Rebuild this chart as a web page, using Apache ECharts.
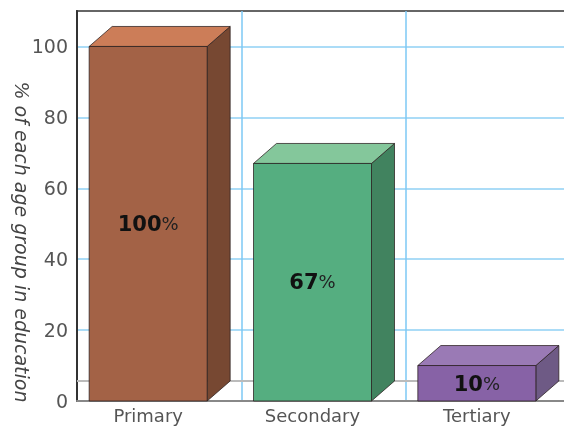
<!DOCTYPE html>
<html><head><meta charset="utf-8">
<style>html,body{margin:0;padding:0;background:#fff}#c{width:564px;height:427px}</style>
<script src="https://cdn.jsdelivr.net/npm/echarts@6/dist/echarts.min.js"></script>
</head><body><div id="c"></div>
<script>
const categories = ['Primary', 'Secondary', 'Tertiary'];
const values = [100, 67, 10];
const backFloor = 5.6;
const yTicks = [0, 20, 40, 60, 80, 100];
const frontColors = ['#a36246', '#55ae80', '#8762a6'];
const topColors = ['#cc7d58', '#84c79b', '#9a7ab5'];
const sideColors = ['#774832', '#41835f', '#6e5a85'];
const yTitle = '% of each age group in education';

const FACE_W = 118, DX = 23, DY = 20, SHIFT = -11;
const edge = 'rgba(40,30,30,0.75)';

function renderBar(params, api) {
  const i = api.value(0);
  const top = api.coord([i, api.value(1)]);
  const base = api.coord([i, 0]);
  const l = top[0] + SHIFT - FACE_W / 2, r = l + FACE_W, t = top[1], b = base[1];
  const poly = (points, fill) => ({
    type: 'polygon', shape: { points },
    style: { fill, stroke: edge, lineWidth: 1, lineJoin: 'round' }
  });
  return {
    type: 'group',
    children: [
      poly([[r, t], [r + DX, t - DY], [r + DX, b - DY], [r, b]], sideColors[i]),
      poly([[l, t], [l + DX, t - DY], [r + DX, t - DY], [r, t]], topColors[i]),
      poly([[l, t], [r, t], [r, b], [l, b]], frontColors[i]),
      {
        type: 'text',
        x: (l + r) / 2, y: (t + b) / 2 + (i === 1 ? 1 : 2),
        style: {
          text: '{b|' + api.value(1) + '}{p|%}',
          align: 'center', verticalAlign: 'middle',
          rich: {
            b: { font: 'bold 21px "DejaVu Sans"', fill: '#111' },
            p: { font: '18px "DejaVu Sans"', fill: '#222' }
          }
        }
      }
    ]
  };
}

const chart = echarts.init(document.getElementById('c'), null, { renderer: 'canvas' });
chart.setOption({
  animation: false,
  backgroundColor: '#fff',
  grid: { left: 77, right: -6, top: 11, bottom: 26, containLabel: false,
          outerBoundsMode: 'none',
          show: true, borderWidth: 2, borderColor: '#666' },
  graphic: [{
    type: 'text', x: 20, y: 242, rotation: -Math.PI / 2,
    style: { text: yTitle, align: 'center', verticalAlign: 'middle', fill: '#444',
             font: 'italic 19px "DejaVu Sans"' }
  }],
  xAxis: {
    type: 'category', data: categories,
    axisLine: { show: true, lineStyle: { color: '#888', width: 2 } },
    axisTick: { show: false },
    axisLabel: { color: '#555', fontFamily: 'DejaVu Sans', fontSize: 18, margin: 7,
                 align: 'center', padding: [0, 22, 0, 0] },
    splitLine: { show: true, interval: 0, lineStyle: { color: '#7cc8f4', width: 1.5 } }
  },
  yAxis: {
    type: 'value', min: 0, max: 110, interval: 20,
    axisLine: { show: true, onZero: false, lineStyle: { color: '#333', width: 2 } },
    axisTick: { show: false },
    axisLabel: { color: '#555', margin: 9,
                 formatter: v => yTicks.includes(v) ? '{t|' + v + '}' : '',
                 rich: { t: { color: '#555', fontFamily: 'DejaVu Sans', fontSize: 19, padding: [4, 0, 0, 0] } } },
    splitLine: { show: true, showMaxLine: false, lineStyle: { color: '#8fd0f5', width: 1.5 } }
  },
  series: [{
    type: 'custom', z: 5, clip: false,
    data: values.map((v, i) => [i, v]),
    encode: { x: 0, y: 1 },
    renderItem: renderBar,
    markLine: {
      silent: true, symbol: 'none', z: 1, label: { show: false },
      lineStyle: { color: '#bbb', width: 2, type: 'solid' },
      data: [{ yAxis: backFloor }]
    }
  }]
});
</script></body></html>
